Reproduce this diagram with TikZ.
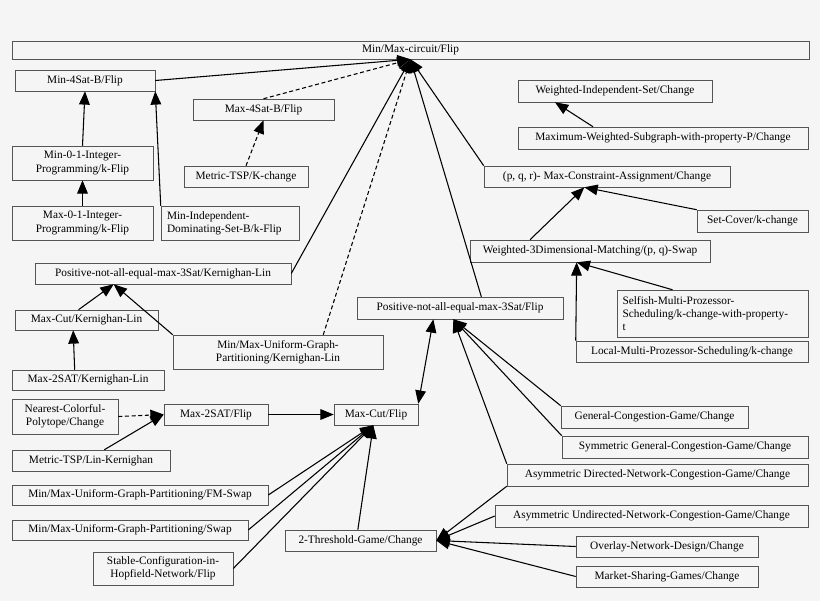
\documentclass[tikz,border=0pt]{standalone}
\usepackage{fontspec}
\setmainfont{Liberation Serif}
\usetikzlibrary{arrows.meta}
\definecolor{bgcol}{HTML}{F5F5F5}
\definecolor{edgecol}{HTML}{555555}
% box from pixel corners: name, x1, y1, x2, y2, text
\newcommand{\bx}[7][]{\node[box,minimum width={(#5-#3)*0.75pt},minimum height={(#6-#4)*0.75pt},#1] (#2) at ({(#3+#5)/2},{(#4+#6)/2}) {#7};}
\begin{document}
\begin{tikzpicture}[
    x=0.75pt, y=-0.75pt,
    % Define styles
    box/.style={rectangle, draw=edgecol, inner sep=0pt, align=center, font=\fontsize{8.5}{10}\selectfont},
    lbox/.style={align=left, text width={#1*0.75pt}},
    dep/.style={-{Triangle[length=10pt,width=8pt]}, thick},
    weak/.style={dep, densely dashed}
]
\fill[bgcol] (0,0) rectangle (820,601);
\useasboundingbox (0,0) rectangle (820,601);

% Top
\bx{circuit}{12}{41}{809}{59}{Min/Max-circuit/Flip}
\bx{minsat}{15}{70}{155}{91}{Min-4Sat-B/Flip}
\bx{maxsat}{193}{99}{334}{120}{Max-4Sat-B/Flip}
\bx{tspk}{184}{166}{308}{187}{Metric-TSP/K-change}
\bx{minip}{12}{146}{153}{180}{Min-0-1-Integer-\\Programming/k-Flip}
\bx{maxip}{12}{206}{153}{240}{Max-0-1-Integer-\\Programming/k-Flip}
\bx[lbox=126]{minids}{161}{206}{299}{240}{Min-Independent-\\Dominating-Set-B/k-Flip}

% Right column
\bx{wis}{518}{80}{712}{102}{Weighted-Independent-Set/Change}
\bx{mws}{518}{127}{808}{149}{Maximum-Weighted-Subgraph-with-property-P/Change}
\bx{pqr}{484}{166}{730}{187}{(p, q, r)- Max-Constraint-Assignment/Change}
\bx{setcover}{697}{210}{808}{232}{Set-Cover/k-change}
\bx{wtdm}{470}{240}{710}{262}{Weighted-3Dimensional-Matching/(p, q)-Swap}
\bx[lbox=180]{selfish}{617}{290}{808}{337}{Selfish-Multi-Prozessor-\\Scheduling/k-change-with-property-\\t}
\bx{local}{576}{341}{808}{362}{Local-Multi-Prozessor-Scheduling/k-change}

% Middle
\bx{naekl}{35}{263}{291}{284}{Positive-not-all-equal-max-3Sat/Kernighan-Lin}
\bx{naeflip}{357}{297}{563}{319}{Positive-not-all-equal-max-3Sat/Flip}
\bx{cutkl}{15}{310}{158}{330}{Max-Cut/Kernighan-Lin}
\bx{ugpkl}{173}{335}{383}{369}{Min/Max-Uniform-Graph-\\Partitioning/Kernighan-Lin}
\bx{twokl}{12}{370}{164}{390}{Max-2SAT/Kernighan-Lin}
\bx{ncp}{12}{399}{118}{434}{Nearest-Colorful-\\Polytope/Change}
\bx{twoflip}{164}{404}{268}{425}{Max-2SAT/Flip}
\bx{cutflip}{334}{404}{418}{425}{Max-Cut/Flip}
\bx{tsplk}{12}{450}{170}{471}{Metric-TSP/Lin-Kernighan}

% Bottom
\bx{fmswap}{12}{485}{268}{505}{Min/Max-Uniform-Graph-Partitioning/FM-Swap}
\bx{swap}{12}{520}{248}{540}{Min/Max-Uniform-Graph-Partitioning/Swap}
\bx{hopfield}{93}{552}{233}{585}{Stable-Configuration-in-\\Hopfield-Network/Flip}
\bx{thresh}{285}{530}{436}{551}{2-Threshold-Game/Change}
\bx{gcg}{561}{406}{748}{428}{General-Congestion-Game/Change}
\bx{sgcg}{562}{436}{808}{458}{Symmetric General-Congestion-Game/Change}
\bx{adncg}{507}{464}{808}{486}{Asymmetric Directed-Network-Congestion-Game/Change}
\bx{auncg}{495}{505}{808}{527}{Asymmetric Undirected-Network-Congestion-Game/Change}
\bx{overlay}{576}{536}{758}{557}{Overlay-Network-Design/Change}
\bx{market}{576}{566}{758}{587}{Market-Sharing-Games/Change}

% Relationships
\draw[dep] (minsat.east) -- (circuit.south);
\draw[weak] (maxsat.north) -- (circuit.south);
\draw[dep] (naekl.east) -- (circuit.south);
\draw[weak] (ugpkl.north east) ++(-60,0) -- (circuit.south);
\draw[dep] ([xshift=16]naeflip.north) -- (circuit.south);
\draw[dep] (pqr.north west) -- (circuit.south);
\draw[dep] (minip.north) -- (minsat.south);
\draw[dep] (maxip.north) -- (minip.south);
\draw[dep] (minids.north west) -- (minsat.south east);
\draw[weak] (tspk.north) -- (maxsat.south);
\draw[dep] (mws.north) ++(-70,0) -- ([xshift=-45]wis.south);
\draw[dep] ([xshift=-45]wtdm.north) -- ([xshift=-17]pqr.south);
\draw[dep] (setcover.north west) -- ([xshift=-17]pqr.south);
\draw[dep] ([xshift=-30]selfish.north) -- ([xshift=-10]wtdm.south);
\draw[dep] (local.north west) -- ([xshift=-10]wtdm.south);
\draw[dep] ([xshift=-6]cutkl.north) -- ([xshift=-37]naekl.south);
\draw[dep] (ugpkl.north west) -- ([xshift=-37]naekl.south);
\draw[dep] ([xshift=-10]twokl.north) -- ([xshift=-10]cutkl.south);
\draw[weak] (ncp.east) -- (twoflip.west);
\draw[dep] ([xshift=10]tsplk.north) -- (twoflip.west);
\draw[dep] (twoflip.east) -- (cutflip.west);
\draw[{Triangle[length=10pt,width=8pt]}-{Triangle[length=10pt,width=8pt]}, thick] (cutflip.north east) -- ([xshift=-20]naeflip.south);
\draw[dep] (fmswap.east) -- ([xshift=-2]cutflip.south);
\draw[dep] (swap.east) -- ([xshift=-2]cutflip.south);
\draw[dep] (hopfield.east) -- ([xshift=-2]cutflip.south);
\draw[dep] ([xshift=-2]thresh.north) -- ([xshift=-2]cutflip.south);
\draw[dep] (gcg.north west) -- ([xshift=-5]naeflip.south);
\draw[dep] (sgcg.north west) -- ([xshift=-5]naeflip.south);
\draw[dep] (adncg.north west) -- ([xshift=-5]naeflip.south);
\draw[dep] (adncg.south west) -- (thresh.east);
\draw[dep] (auncg.west) -- (thresh.east);
\draw[dep] (overlay.west) -- (thresh.east);
\draw[dep] (market.west) -- (thresh.east);
\end{tikzpicture}
\end{document}
